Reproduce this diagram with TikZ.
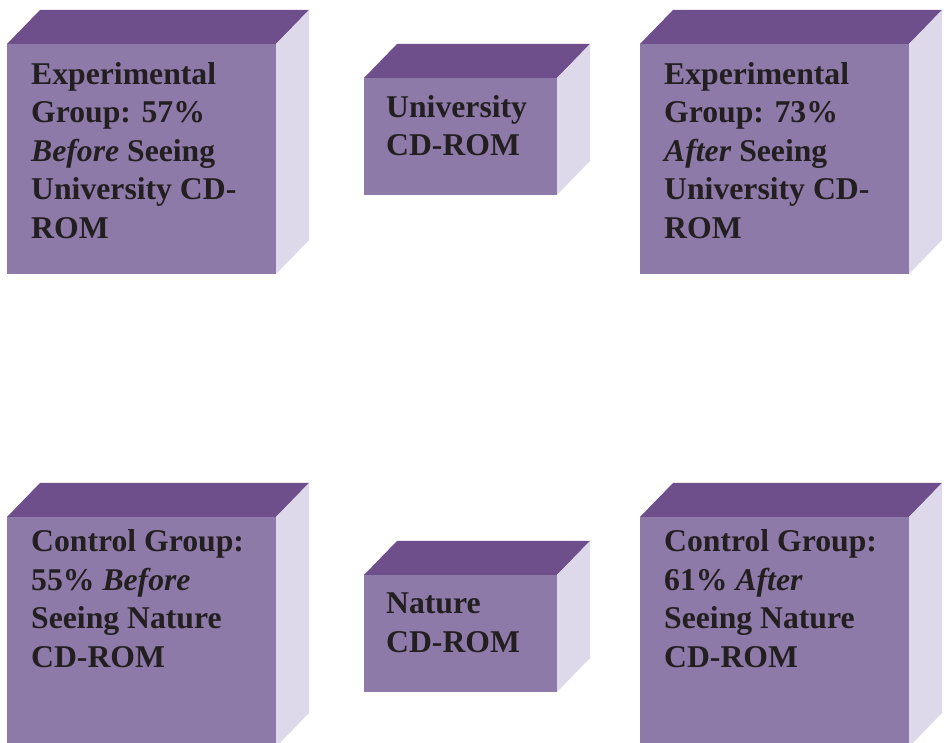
\documentclass[tikz,border=0pt]{standalone}
\usepackage{fontspec}
\setmainfont{Liberation Serif}
\usetikzlibrary{calc}
\definecolor{frontcol}{RGB}{142,122,168}
\definecolor{topcol}{RGB}{111,79,139}
\definecolor{sidecol}{RGB}{221,216,234}
\definecolor{inkcol}{RGB}{35,31,32}
\tikzset{
  frontface/.style={fill=frontcol, draw=none, inner sep=0pt, outer sep=0pt, anchor=south west},
  topface/.style={fill=topcol},
  sideface/.style={fill=sidecol},
  % multi-line labels: the base anchor sits on the last line
  boxtext/.style={text=inkcol, align=left, inner sep=0pt, anchor=base west,
    font=\fontsize{31.7}{38.6}\selectfont\bfseries},
  bigbox/.style={frontface, minimum width=269pt, minimum height=230pt},
  smallbox/.style={frontface, minimum width=193pt, minimum height=117pt}
}
% top and right faces of a box whose front face is node #1
\newcommand{\boxfaces}[1]{%
  \fill[topface] (#1.north west) -- ++(33,34) -- ($(#1.north east)+(33,34)$) -- (#1.north east) -- cycle;
  \fill[sideface] (#1.north east) -- ++(33,34) -- ($(#1.south east)+(33,34)$) -- (#1.south east) -- cycle;
}
\begin{document}
\begin{tikzpicture}[x=1pt,y=1pt]
\useasboundingbox (0,0) rectangle (946,743);
\clip (0,0) rectangle (946,743);
\fill[white] (0,0) rectangle (946,743);

% upper row
\node[bigbox] (expBefore) at (7,469) {};
\boxfaces{expBefore}
\node[smallbox] (uniCD) at (364,548) {};
\boxfaces{uniCD}
\node[bigbox] (expAfter) at (640,469) {};
\boxfaces{expAfter}

% lower row
\node[bigbox] (ctrlBefore) at (7,-4) {};
\boxfaces{ctrlBefore}
\node[smallbox] (natCD) at (364,51) {};
\boxfaces{natCD}
\node[bigbox] (ctrlAfter) at (640,-4) {};
\boxfaces{ctrlAfter}

% labels
\node[boxtext] (expBeforeText) at (31,504.5) {Experimental\\Group: 57\%\\\textit{Before} Seeing\\University CD-\\ROM};
\node[boxtext] (uniText) at (386,587) {University\\CD-ROM};
\node[boxtext] (expAfterText) at (664,504.5) {Experimental\\Group: 73\%\\\textit{After} Seeing\\University CD-\\ROM};
\node[boxtext] (ctrlBeforeText) at (31,75.5) {Control Group:\\55\% \textit{Before}\\Seeing Nature\\CD-ROM};
\node[boxtext] (natText) at (386,90.5) {Nature\\CD-ROM};
\node[boxtext] (ctrlAfterText) at (664,75.5) {Control Group:\\61\% \textit{After}\\Seeing Nature\\CD-ROM};
\end{tikzpicture}
\end{document}
